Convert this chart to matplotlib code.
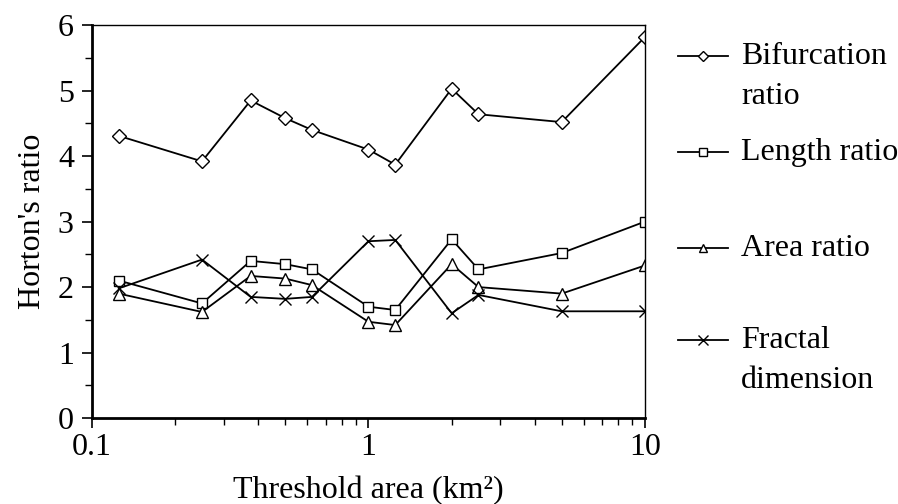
import matplotlib
matplotlib.use("Agg")
import matplotlib.pyplot as plt
from matplotlib.lines import Line2D
from matplotlib.ticker import LogLocator, NullFormatter, FixedLocator, FixedFormatter, MultipleLocator

plt.rcParams['font.family'] = ['Liberation Serif', 'DejaVu Serif']

threshold = [0.125, 0.25, 0.375, 0.5, 0.625, 1.0, 1.25, 2.0, 2.5, 5.0, 10.0]
bifurcation = [4.31, 3.92, 4.85, 4.58, 4.40, 4.10, 3.87, 5.03, 4.64, 4.52, 5.82]
length_ratio = [2.10, 1.75, 2.40, 2.35, 2.27, 1.70, 1.65, 2.73, 2.27, 2.52, 3.00]
area_ratio = [1.90, 1.62, 2.17, 2.13, 2.03, 1.47, 1.42, 2.35, 2.00, 1.90, 2.33]
fractal = [1.98, 2.42, 1.85, 1.82, 1.85, 2.70, 2.72, 1.60, 1.88, 1.63, 1.63]

series = [
    ("Bifurcation\nratio", bifurcation, 'D', 7.0),
    ("Length ratio", length_ratio, 's', 7.5),
    ("Area ratio", area_ratio, '^', 8.5),
    ("Fractal\ndimension", fractal, 'x', 9.0),
]

FS = 23

fig = plt.figure(figsize=(8.98, 5.04), dpi=100)
ax = fig.add_axes([0.1024, 0.1706, 0.6158, 0.7794])

for label, vals, mk, ms in series:
    ax.plot(threshold, vals, color='black', linewidth=1.3, marker=mk,
            markersize=ms, markerfacecolor='white', markeredgecolor='black',
            markeredgewidth=1.0)

ax.set_xscale('log')
ax.set_xlim(0.1, 10)
ax.set_ylim(0, 6)
ax.xaxis.set_major_locator(FixedLocator([0.1, 1, 10]))
ax.xaxis.set_major_formatter(FixedFormatter(['0.1', '1', '10']))
ax.xaxis.set_minor_locator(LogLocator(base=10, subs=range(2, 10), numticks=20))
ax.xaxis.set_minor_formatter(NullFormatter())
ax.set_yticks(range(0, 7))
ax.yaxis.set_minor_locator(MultipleLocator(0.5))

ax.tick_params(axis='both', which='major', direction='out', length=7, width=1.2,
               labelsize=FS, colors='black')
ax.tick_params(axis='y', which='major', pad=6)
ax.tick_params(axis='x', which='major', pad=4)
ax.tick_params(axis='both', which='minor', direction='out', length=5, width=1.0)

ax.spines['left'].set_linewidth(2.0)
ax.spines['bottom'].set_linewidth(2.0)
ax.spines['top'].set_linewidth(1.0)
ax.spines['right'].set_linewidth(1.0)

ax.set_xlabel("Threshold area (km\u00b2)", fontsize=FS, labelpad=9.5)
ax.set_ylabel("Horton's ratio", fontsize=FS, labelpad=8)

# legend drawn at right
legend_px = [56, 152, 248, 340]  # handle rows, pixels from top
text_shift = 3 / 504
line_step = 40 / 504
x0, x1 = 678 / 898, 728 / 898
for (label, vals, mk, ms), py in zip(series, legend_px):
    yy = 1 - py / 504
    fig.add_artist(Line2D([x0, x1], [yy, yy], transform=fig.transFigure,
                          color='black', linewidth=1.3))
    fig.add_artist(Line2D([(x0 + x1) / 2], [yy], transform=fig.transFigure,
                          marker=mk, markersize=ms * 0.75, markerfacecolor='white',
                          markeredgecolor='black', markeredgewidth=1.0,
                          linestyle='none'))
    for i, part in enumerate(label.split("\n")):
        fig.text(741 / 898, yy + text_shift - i * line_step, part, fontsize=FS,
                 va='center_baseline', ha='left')

fig.savefig("out.png", dpi=100)
